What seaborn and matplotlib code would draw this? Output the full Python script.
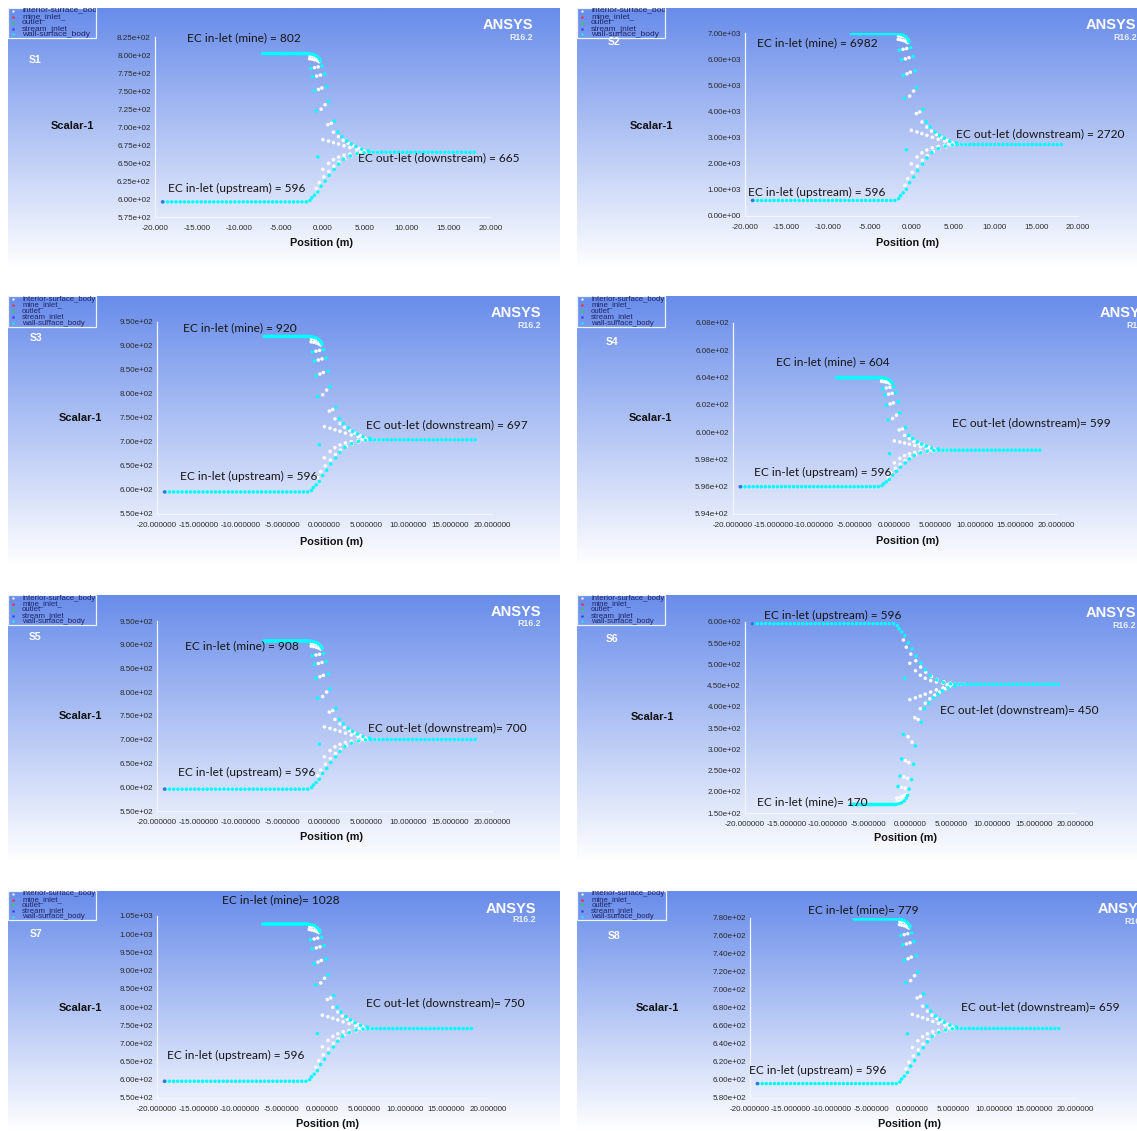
import numpy as np
import pandas as pd
import matplotlib
matplotlib.use("Agg")
import matplotlib.pyplot as plt
import seaborn as sns
from matplotlib.ticker import FixedLocator, FormatStrFormatter, AutoMinorLocator
from matplotlib.colors import LinearSegmentedColormap
from matplotlib.patches import Rectangle

# ---------------- data ----------------
panels = ["S1", "S2", "S3", "S4", "S5", "S6", "S7", "S8"]
ec_upstream = [596, 596, 596, 596, 596, 596, 596, 596]
ec_mine = [802, 6982, 920, 604, 908, 170, 1028, 779]
ec_outlet = [665, 2720, 697, 599, 700, 450, 750, 659]
mine_sep = [" = ", " = ", " = ", " = ", " = ", "= ", "= ", "= "]
outlet_sep = [" = ", " = ", " = ", "= ", "= ", "= ", "= ", "= "]
y_min = [575, 0, 550, 594, 550, 150, 550, 580]
y_max = [825, 7000, 950, 608, 950, 600, 1050, 780]
y_step = [25, 1000, 50, 2, 50, 50, 50, 20]
x_ticks = [-20, -15, -10, -5, 0, 5, 10, 15, 20]
x_decimals = [3, 3, 6, 6, 6, 6, 6, 6]

legend_names = ["interior-surface_body", "mine_inlet_", "outlet", "stream_inlet", "wall-surface_body"]
legend_colors = ["#ffffff", "#ff2020", "#20e020", "#2030ff", "#00ffff"]

# normalised profile (0 = upstream inlet value, 1 = mine inlet value)
up_flat_x = np.arange(-19.0, -1.7, 0.5)
up_flat_f = [0.0] * len(up_flat_x)
mine_flat_x = np.arange(-7.2, -1.7, 0.18)
mine_flat_f = [1.0] * len(mine_flat_x)
out_flat_x = np.arange(5.5, 18.3, 0.5)
out_flat_f = [0.335] * len(out_flat_x)

wall_rise_x = [-1.55, -1.33, -1.0, -0.62, -0.22, 0.26, 0.74, 1.33, 1.85, 2.45, 3.25, 4.05, 4.9]
wall_rise_f = [0.010, 0.028, 0.045, 0.067, 0.106, 0.140, 0.179, 0.218, 0.255, 0.287, 0.310, 0.325, 0.332]
wall_single_x = [-0.62]
wall_single_f = [0.303]

white_low_a_x = [-0.02, 0.66, 1.25, 1.85, 2.5, 3.2, 4.0, 4.8]
white_low_a_f = [0.219, 0.260, 0.285, 0.302, 0.315, 0.323, 0.329, 0.333]
white_low_b_x = [-0.8, -0.45, 0.1, 0.7, 1.3, 1.9, 2.6, 3.3, 4.1, 4.9]
white_low_b_f = [0.090, 0.130, 0.168, 0.205, 0.240, 0.268, 0.292, 0.309, 0.321, 0.329]

wall_top_x = [-1.6, -1.3, -1.0, -0.7, -0.45, -0.3]
wall_top_f = [0.998, 0.995, 0.990, 0.980, 0.965, 0.950]
white_clump_x = [-1.55, -1.25, -0.95, -0.65, -0.45, -1.6, -1.3, -1.0, -0.7, -0.45]
white_clump_f = [0.985, 0.983, 0.980, 0.972, 0.962, 0.965, 0.962, 0.958, 0.952, 0.945]
wall_rows_x = [-1.45, -0.10, -1.21, 0.20, -1.01, 0.45, -0.82, 0.66, 1.37]
wall_rows_f = [0.900, 0.915, 0.842, 0.862, 0.748, 0.777, 0.612, 0.676, 0.545]
white_rows_x = [-1.01, -0.58, -0.74, -0.30, -0.54, -0.14, -0.22, 0.25, 0.58, 0.98]
white_rows_f = [0.905, 0.910, 0.848, 0.855, 0.758, 0.768, 0.625, 0.655, 0.520, 0.530]

wall_conv_x = [1.77, 2.25, 2.84, 3.38, 3.92, 4.6, 5.4]
wall_conv_f = [0.471, 0.440, 0.410, 0.390, 0.372, 0.355, 0.345]
white_up_a_x = [-0.02, 0.66, 1.25, 1.85, 2.5, 3.2, 4.0, 4.8]
white_up_a_f = [0.420, 0.410, 0.400, 0.390, 0.378, 0.366, 0.355, 0.347]
white_up_b_x = [1.25, 1.85, 2.4, 3.0, 3.6, 4.3]
white_up_b_f = [0.470, 0.440, 0.415, 0.395, 0.378, 0.360]
white_out_x = [4.5, 5.0, 5.5, 6.0, 6.5]
white_out_f = [0.338, 0.337, 0.336, 0.335, 0.335]

inlet_x = [-19.1]
inlet_f = [0.0]

curves = [
    ("interior-surface_body", white_low_a_x, white_low_a_f),
    ("interior-surface_body", white_low_b_x, white_low_b_f),
    ("interior-surface_body", white_clump_x, white_clump_f),
    ("interior-surface_body", white_rows_x, white_rows_f),
    ("interior-surface_body", white_up_a_x, white_up_a_f),
    ("interior-surface_body", white_up_b_x, white_up_b_f),
    ("interior-surface_body", white_out_x, white_out_f),
    ("wall-surface_body", up_flat_x, up_flat_f),
    ("wall-surface_body", wall_rise_x, wall_rise_f),
    ("wall-surface_body", wall_single_x, wall_single_f),
    ("wall-surface_body", mine_flat_x, mine_flat_f),
    ("wall-surface_body", wall_top_x, wall_top_f),
    ("wall-surface_body", wall_rows_x, wall_rows_f),
    ("wall-surface_body", wall_conv_x, wall_conv_f),
    ("wall-surface_body", out_flat_x, out_flat_f),
    ("stream_inlet", inlet_x, inlet_f),
]
palette = {"interior-surface_body": "#ffffff", "wall-surface_body": "#00ffff", "stream_inlet": "#3f6fe0"}

# ---------------- layout (pixels) ----------------
layout = [
    dict(panel=(8, 8, 560, 268), axes=(155, 37, 491, 217), legend=(8, 8, 96, 38), tag=(35, 60), scalar=(72, 126), pos=(322, 243), ansys=(533, 25), rev=(533, 37), mine=(187, 38), out=(358, 158), up=(168, 188), lfs=6.0),
    dict(panel=(577, 8, 1137, 268), axes=(745, 33, 1078, 216), legend=(577, 8, 665, 38), tag=(614, 42), scalar=(651, 126), pos=(907, 243), ansys=(1136, 25), rev=(1137, 37), mine=(757, 43), out=(956, 134), up=(748, 192), lfs=6.0),
    dict(panel=(8, 296, 560, 566), axes=(157, 322, 492, 514), legend=(8, 296, 96, 327), tag=(36, 338), scalar=(80, 418), pos=(332, 542), ansys=(541, 313), rev=(541, 325), mine=(183, 328), out=(366, 425), up=(180, 476), lfs=5.6),
    dict(panel=(577, 296, 1137, 566), axes=(733, 323, 1056, 514), legend=(577, 296, 665, 327), tag=(612, 342), scalar=(650, 418), pos=(908, 541), ansys=(1150, 313), rev=(1150, 326), mine=(776, 362), out=(952, 423), up=(754, 472), lfs=5.6),
    dict(panel=(8, 595, 560, 862), axes=(157, 621, 492, 811), legend=(8, 595, 96, 625), tag=(35, 637), scalar=(80, 716), pos=(332, 837), ansys=(541, 612), rev=(541, 624), mine=(185, 646), out=(368, 728), up=(178, 772), lfs=5.6),
    dict(panel=(577, 595, 1137, 862), axes=(745, 622, 1075, 813), legend=(577, 595, 665, 625), tag=(612, 639), scalar=(652, 717), pos=(906, 838), ansys=(1136, 613), rev=(1136, 625), mine=(757, 802), out=(940, 710), up=(764, 615), lfs=5.6),
    dict(panel=(8, 891, 560, 1131), axes=(157, 916, 488, 1098), legend=(8, 891, 96, 920), tag=(36, 934), scalar=(80, 1008), pos=(327, 1124), ansys=(536, 909), rev=(536, 920), mine=(222, 900), out=(366, 1003), up=(167, 1055), lfs=5.6),
    dict(panel=(577, 891, 1137, 1131), axes=(750, 918, 1075, 1098), legend=(577, 891, 666, 920), tag=(614, 936), scalar=(657, 1008), pos=(910, 1124), ansys=(1148, 909), rev=(1148, 921), mine=(808, 910), out=(961, 1007), up=(749, 1070), lfs=5.6),
]

# ---------------- drawing ----------------
sns.set_style("white")
plt.rcParams['font.family'] = ['Liberation Sans', 'DejaVu Sans']

W, H = 1137, 1131
fig = plt.figure(figsize=(W / 100, H / 100), dpi=100, facecolor="white")
bg_cmap = LinearSegmentedColormap.from_list("ansys_bg", ["#688cea", "#ffffff"])
ANN = ['Lato', 'DejaVu Sans']


def rect(x0, y0, x1, y1):
    return [x0 / W, 1 - y1 / H, (x1 - x0) / W, (y1 - y0) / H]


def fpt(x, y):
    return x / W, 1 - y / H


for i, name in enumerate(panels):
    L = layout[i]
    bg = fig.add_axes(rect(*L["panel"]))
    grad = np.linspace(0, 1, 256).reshape(-1, 1)
    bg.imshow(grad, aspect="auto", cmap=bg_cmap, extent=[0, 1, 0, 1], origin="upper")
    bg.set_axis_off()

    ax = fig.add_axes(rect(*L["axes"]))
    ax.patch.set_alpha(0)
    up, mine = ec_upstream[i], ec_mine[i]
    rows = []
    for surface, xs, fs in curves:
        for x, f in zip(xs, fs):
            rows.append((surface, float(x), up + f * (mine - up)))
    df = pd.DataFrame(rows, columns=["surface", "position", "scalar"])
    sns.scatterplot(data=df, x="position", y="scalar", hue="surface", palette=palette,
                    s=6.5, linewidth=0, legend=False, ax=ax, marker="o")
    ax.set_xlabel("")
    ax.set_ylabel("")
    ax.set_xlim(-20, 20)
    ax.set_ylim(y_min[i], y_max[i])
    yt = np.arange(y_min[i], y_max[i] + y_step[i] / 2, y_step[i])
    ax.yaxis.set_major_locator(FixedLocator(yt))
    ax.yaxis.set_major_formatter(FormatStrFormatter("%.2e"))
    ax.xaxis.set_major_locator(FixedLocator(x_ticks))
    ax.xaxis.set_major_formatter(FormatStrFormatter("%%.%df" % x_decimals[i]))
    ax.yaxis.set_minor_locator(AutoMinorLocator(2))
    ax.xaxis.set_minor_locator(AutoMinorLocator(5))
    for s in ["top", "right"]:
        ax.spines[s].set_visible(False)
    for s in ["left", "bottom"]:
        ax.spines[s].set_color("#f3f6fd")
        ax.spines[s].set_linewidth(0.9)
    ax.tick_params(which="major", direction="in", length=3, width=0.7, color="#f3f6fd",
                   labelsize=5.8, labelcolor="#2a2a2a", pad=3)
    ax.tick_params(axis="x", which="major", pad=6)
    ax.tick_params(which="minor", direction="in", length=2, width=0.6, color="#f3f6fd")

    # legend box
    lx0, ly0, lx1, ly1 = L["legend"]
    lax = fig.add_axes(rect(lx0, ly0, lx1, ly1))
    lax.set_xlim(0, 1)
    lax.set_ylim(0, 1)
    lax.set_axis_off()
    lax.add_patch(Rectangle((0, 0), 1, 1, fill=False, ec="#eef2fb", lw=0.9,
                            transform=lax.transAxes, clip_on=False))
    for k, (nm, col) in enumerate(zip(legend_names, legend_colors)):
        yy = 0.90 - k * 0.195
        lax.plot([0.055], [yy], marker="s", ms=1.8, color=col, mec="none", clip_on=False)
        t = lax.text(0.16, yy, nm, fontsize=L["lfs"], color="#1d2466", va="center", ha="left")
        t.set_clip_on(True)
        t.set_clip_box(lax.bbox)

    # labels
    fig.text(*fpt(*L["tag"]), name, color="white", fontsize=7.5, fontweight="bold", ha="center", va="center")
    fig.text(*fpt(*L["scalar"]), "Scalar-1", color="#111111", fontsize=8, fontweight="bold", ha="center", va="center")
    fig.text(*fpt(*L["pos"]), "Position (m)", color="#111111", fontsize=7.8, fontweight="bold", ha="center", va="center")
    fig.text(*fpt(*L["ansys"]), "ANSYS", color="white", fontsize=10.5, fontweight="bold", ha="right", va="center")
    fig.text(*fpt(*L["rev"]), "R16.2", color="#eaf0fd", fontsize=6.3, fontweight="bold", ha="right", va="center")

    fig.text(*fpt(*L["mine"]), "EC in-let (mine)%s%d" % (mine_sep[i], ec_mine[i]),
             family=ANN, fontsize=8.6, color="#151515", ha="left", va="center")
    fig.text(*fpt(*L["out"]), "EC out-let (downstream)%s%d" % (outlet_sep[i], ec_outlet[i]),
             family=ANN, fontsize=8.6, color="#151515", ha="left", va="center")
    fig.text(*fpt(*L["up"]), "EC in-let (upstream) = %d" % ec_upstream[i],
             family=ANN, fontsize=8.6, color="#151515", ha="left", va="center")

fig.savefig("out.png", dpi=100, facecolor="white")
